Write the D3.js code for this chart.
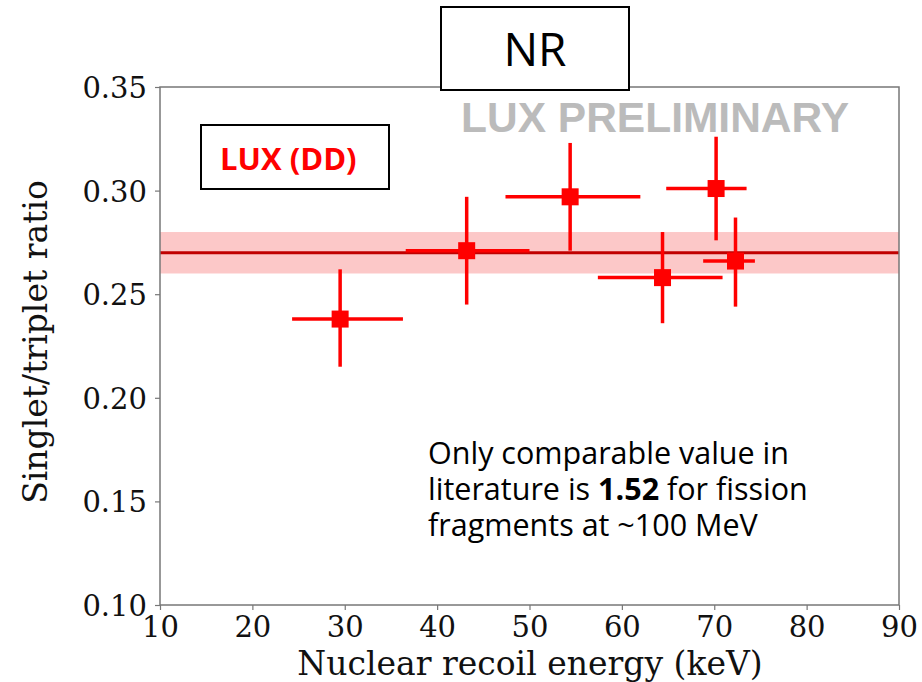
<!DOCTYPE html>
<html>
<head>
<meta charset="utf-8">
<script src="https://cdn.jsdelivr.net/npm/d3@7"></script>
<style>
  html, body { margin: 0; padding: 0; background: #fff; }
  svg { display: block; }
</style>
</head>
<body>
<svg id="chart" width="922" height="682"></svg>
<script>
// Singlet/triplet ratio measurements vs nuclear recoil energy
const energy     = [29.5, 43.2, 54.4, 64.4, 70.2, 72.3];
const energyLow  = [24.3, 36.6, 47.4, 57.4, 64.8, 68.8];
const energyHigh = [36.3, 50.0, 62.0, 70.9, 73.5, 74.4];
const ratio      = [0.238, 0.271, 0.297, 0.258, 0.301, 0.266];
const ratioLow   = [0.215, 0.245, 0.271, 0.236, 0.276, 0.244];
const ratioHigh  = [0.262, 0.297, 0.323, 0.280, 0.326, 0.287];

// Weighted mean and its uncertainty band
const meanRatio = 0.270;
const meanBand  = [0.260, 0.280];

const xTicks = [10, 20, 30, 40, 50, 60, 70, 80, 90];
const yTicks = [0.10, 0.15, 0.20, 0.25, 0.30, 0.35];

const noteLines = [
  [{t: "Only comparable value in", b: false}],
  [{t: "literature is ", b: false}, {t: "1.52", b: true}, {t: " for fission", b: false}],
  [{t: "fragments at ~100 MeV", b: false}]
];

const svg = d3.select("#chart");
const plot = {left: 160, right: 899, top: 87, bottom: 605};

const x = d3.scaleLinear().domain([10, 90]).range([plot.left, plot.right]);
const y = d3.scaleLinear().domain([0.10, 0.35]).range([plot.bottom, plot.top]);

const serif = "'DejaVu Serif', serif";
const sans = "'Open Sans', 'Noto Sans', sans-serif";
const red = "#ff0000";

// Mean band and line
svg.append("rect")
  .attr("x", x(10)).attr("width", x(90) - x(10))
  .attr("y", y(meanBand[1])).attr("height", y(meanBand[0]) - y(meanBand[1]))
  .attr("fill", "#fcc8c8");
svg.append("line")
  .attr("x1", x(10)).attr("x2", x(90))
  .attr("y1", y(meanRatio)).attr("y2", y(meanRatio))
  .attr("stroke", "#c00000").attr("stroke-width", 3);

// Data points with error bars
const pts = energy.map((e, i) => ({
  e, eLo: energyLow[i], eHi: energyHigh[i],
  r: ratio[i], rLo: ratioLow[i], rHi: ratioHigh[i]
}));
const g = svg.append("g");
g.selectAll("line.xerr").data(pts).join("line")
  .attr("class", "xerr")
  .attr("x1", d => x(d.eLo)).attr("x2", d => x(d.eHi))
  .attr("y1", d => y(d.r)).attr("y2", d => y(d.r))
  .attr("stroke", red).attr("stroke-width", 3.5);
g.selectAll("line.yerr").data(pts).join("line")
  .attr("class", "yerr")
  .attr("x1", d => x(d.e)).attr("x2", d => x(d.e))
  .attr("y1", d => y(d.rLo)).attr("y2", d => y(d.rHi))
  .attr("stroke", red).attr("stroke-width", 3.5);
const ms = 17;
g.selectAll("rect.pt").data(pts).join("rect")
  .attr("class", "pt")
  .attr("x", d => x(d.e) - ms / 2).attr("y", d => y(d.r) - ms / 2)
  .attr("width", ms).attr("height", ms)
  .attr("fill", red);

// Axes
const xAxis = svg.append("g")
  .attr("transform", `translate(0,${plot.bottom})`)
  .call(d3.axisBottom(x).tickValues(xTicks).tickFormat(d3.format("d")).tickSize(5).tickPadding(4));
const yAxis = svg.append("g")
  .attr("transform", `translate(${plot.left},0)`)
  .call(d3.axisLeft(y).tickValues(yTicks).tickFormat(d3.format(".2f")).tickSize(5).tickPadding(8));
[xAxis, yAxis].forEach(a => {
  a.select(".domain").remove();
  a.selectAll(".tick line").attr("stroke", "#777").attr("stroke-width", 1.2);
  a.selectAll(".tick text").attr("font-family", serif).attr("font-size", 29).attr("fill", "#111");
});
xAxis.selectAll(".tick text").attr("dy", "0.78em");
yAxis.selectAll(".tick text").attr("dy", "0.36em");

// Frame
svg.append("rect")
  .attr("x", plot.left).attr("y", plot.top)
  .attr("width", plot.right - plot.left).attr("height", plot.bottom - plot.top)
  .attr("fill", "none").attr("stroke", "#777").attr("stroke-width", 1.5);

// Axis titles
svg.append("text")
  .attr("x", 530).attr("y", 675)
  .attr("text-anchor", "middle")
  .attr("font-family", serif).attr("font-size", 33).attr("fill", "#111")
  .text("Nuclear recoil energy (keV)");
svg.append("text")
  .attr("transform", `translate(47,342) rotate(-90)`)
  .attr("text-anchor", "middle")
  .attr("font-family", serif).attr("font-size", 33).attr("fill", "#111")
  .text("Singlet/triplet ratio");

// Watermark
svg.append("text")
  .attr("x", 655).attr("y", 132)
  .attr("text-anchor", "middle")
  .attr("font-family", "'Liberation Sans', Arial, sans-serif").attr("font-weight", "bold")
  .attr("font-size", 42.5).attr("fill", "#bbbbbb")
  .text("LUX PRELIMINARY");

// Title box
svg.append("rect")
  .attr("x", 441).attr("y", 7).attr("width", 188).attr("height", 83)
  .attr("fill", "#fff").attr("stroke", "#000").attr("stroke-width", 2);
svg.append("text")
  .attr("x", 535).attr("y", 66)
  .attr("text-anchor", "middle")
  .attr("font-family", sans).attr("font-size", 46).attr("fill", "#000")
  .text("NR");

// Dataset label box
svg.append("rect")
  .attr("x", 201).attr("y", 125).attr("width", 188).attr("height", 64)
  .attr("fill", "#fff").attr("stroke", "#000").attr("stroke-width", 2);
svg.append("text")
  .attr("x", 220).attr("y", 170)
  .attr("font-family", sans).attr("font-weight", "bold")
  .attr("font-size", 31).attr("fill", red)
  .text("LUX (DD)");

// Note, one text element per line
noteLines.forEach((line, i) => {
  const row = svg.append("text")
    .attr("x", 428).attr("y", 464 + i * 36)
    .attr("font-family", sans).attr("font-size", 30.5).attr("fill", "#000");
  line.forEach(seg => {
    row.append("tspan").text(seg.t).attr("font-weight", seg.b ? "bold" : "normal");
  });
});
</script>
</body>
</html>
